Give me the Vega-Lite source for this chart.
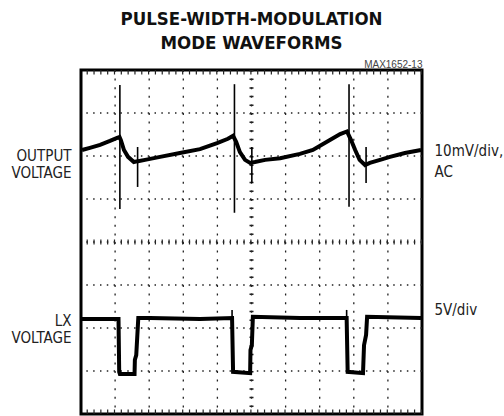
{
  "$schema": "https://vega.github.io/schema/vega-lite/v6.json",
  "width": 341,
  "height": 344,
  "autosize": {"type": "none"},
  "padding": {"left": 81, "top": 70, "right": 82, "bottom": 2},
  "background": "white",
  "config": {"view": {"stroke": "black", "strokeWidth": 3, "fill": "white"}},
  "title": {
    "text": ["PULSE-WIDTH-MODULATION", "MODE WAVEFORMS"],
    "font": "Liberation Sans Narrow, DejaVu Sans Condensed, Liberation Sans, sans-serif",
    "fontSize": 18.5,
    "fontWeight": "bold",
    "lineHeight": 24,
    "anchor": "middle",
    "frame": "group",
    "offset": 7,
    "color": "#111"
  },
  "datasets": {
    "hgrid": [{"y": 1}, {"y": 2}, {"y": 3}, {"y": 4}, {"y": 5}, {"y": 6}, {"y": 7}],
    "vgrid": [{"x": 1}, {"x": 2}, {"x": 3}, {"x": 4}, {"x": 5}, {"x": 6}, {"x": 7}, {"x": 8}, {"x": 9}],
    "hcenter": [{"y": 4}],
    "vcenter": [{"x": 5}],
    "edges": [{"y": 0}, {"y": 8}],
    "out": [
      {"x": 0.03, "y": 6.14}, {"x": 0.26, "y": 6.19}, {"x": 0.56, "y": 6.26}, {"x": 0.85, "y": 6.35},
      {"x": 1.06, "y": 6.42}, {"x": 1.13, "y": 6.44}, {"x": 1.17, "y": 6.37}, {"x": 1.26, "y": 6.14},
      {"x": 1.38, "y": 5.98}, {"x": 1.55, "y": 5.86}, {"x": 1.67, "y": 5.88}, {"x": 1.88, "y": 5.91},
      {"x": 2.32, "y": 5.98}, {"x": 2.9, "y": 6.07}, {"x": 3.49, "y": 6.16}, {"x": 3.99, "y": 6.3},
      {"x": 4.31, "y": 6.4}, {"x": 4.46, "y": 6.47}, {"x": 4.55, "y": 6.33}, {"x": 4.66, "y": 6.09},
      {"x": 4.81, "y": 5.91}, {"x": 4.96, "y": 5.84}, {"x": 5.1, "y": 5.86}, {"x": 5.4, "y": 5.91},
      {"x": 5.84, "y": 5.95}, {"x": 6.42, "y": 6.05}, {"x": 6.8, "y": 6.14}, {"x": 7.3, "y": 6.37},
      {"x": 7.6, "y": 6.51}, {"x": 7.8, "y": 6.57}, {"x": 7.92, "y": 6.37}, {"x": 8.04, "y": 6.14},
      {"x": 8.17, "y": 5.91}, {"x": 8.33, "y": 5.79}, {"x": 8.47, "y": 5.84}, {"x": 8.77, "y": 5.91},
      {"x": 9.06, "y": 5.98}, {"x": 9.5, "y": 6.07}, {"x": 9.97, "y": 6.14}
    ],
    "spikes": [
      {"x": 1.14, "y": 7.65, "y2": 4.77}, {"x": 4.5, "y": 7.67, "y2": 4.68}, {"x": 7.86, "y": 7.67, "y2": 4.82},
      {"x": 1.66, "y": 6.21, "y2": 5.28}, {"x": 5.01, "y": 6.21, "y2": 5.37}, {"x": 8.36, "y": 6.21, "y2": 5.37},
      {"x": 4.43, "y": 2.42, "y2": 2.2}, {"x": 7.79, "y": 2.42, "y2": 2.2}
    ],
    "lx": [
      {"x": 0.03, "y": 2.21}, {"x": 1.1, "y": 2.21}, {"x": 1.12, "y": 0.98}, {"x": 1.14, "y": 0.93},
      {"x": 1.57, "y": 0.93}, {"x": 1.58, "y": 1.26}, {"x": 1.62, "y": 1.37}, {"x": 1.68, "y": 2.23},
      {"x": 2.02, "y": 2.23}, {"x": 3.49, "y": 2.21}, {"x": 4.43, "y": 2.23}, {"x": 4.46, "y": 0.98},
      {"x": 4.96, "y": 0.95}, {"x": 4.97, "y": 1.49}, {"x": 5.01, "y": 1.6}, {"x": 5.04, "y": 2.26},
      {"x": 6.42, "y": 2.23}, {"x": 7.79, "y": 2.23}, {"x": 7.82, "y": 0.98}, {"x": 8.27, "y": 0.95},
      {"x": 8.3, "y": 1.6}, {"x": 8.36, "y": 1.84}, {"x": 8.39, "y": 2.26}, {"x": 9.97, "y": 2.23}
    ]
  },
  "layer": [
    {
      "data": {"name": "hgrid"},
      "mark": {"type": "rule", "strokeDash": [1.5, 5.32], "strokeWidth": 1.3, "color": "#222"},
      "encoding": {"y": {"field": "y", "type": "quantitative", "scale": {"domain": [0, 8], "nice": false}, "axis": null}}
    },
    {
      "data": {"name": "vgrid"},
      "mark": {"type": "rule", "strokeDash": [2, 6.6], "strokeWidth": 1.3, "color": "#222"},
      "encoding": {
        "x": {
          "field": "x", "type": "quantitative", "scale": {"domain": [0, 10], "nice": false},
          "axis": {"orient": "top", "title": "MAX1652-13", "titleFont": "Liberation Sans", "titleFontSize": 10, "titleFontWeight": "normal", "titleColor": "#444", "titleAnchor": "end", "titlePadding": 1, "labels": false, "ticks": false, "domain": false, "grid": false}
        }
      }
    },
    {
      "data": {"name": "hcenter"},
      "mark": {"type": "rule", "strokeDash": [1.2, 5.62], "strokeWidth": 5, "color": "#222"},
      "encoding": {"y": {"field": "y", "type": "quantitative", "axis": null}}
    },
    {
      "data": {"name": "vcenter"},
      "mark": {"type": "rule", "strokeDash": [1.5, 7.1], "strokeWidth": 4, "color": "#222"},
      "encoding": {"x": {"field": "x", "type": "quantitative", "axis": null}}
    },
    {
      "data": {"name": "edges"},
      "mark": {"type": "rule", "strokeDash": [1.2, 5.62], "strokeWidth": 9, "color": "#222", "clip": true},
      "encoding": {"y": {"field": "y", "type": "quantitative", "axis": null}}
    },
    {
      "data": {"name": "out"},
      "mark": {"type": "line", "strokeWidth": 4, "color": "black"},
      "encoding": {
        "x": {"field": "x", "type": "quantitative", "axis": null},
        "y": {
          "field": "y", "type": "quantitative",
          "axis": {"orient": "left", "values": [6.02, 2.17], "labelExpr": "datum.value > 4 ? ['OUTPUT', 'VOLTAGE'] : ['LX', 'VOLTAGE']", "labelFont": "Liberation Sans Narrow, DejaVu Sans Condensed, Liberation Sans, sans-serif", "labelFontSize": 15, "labelColor": "#222", "labelLineHeight": 17, "labelPadding": 10, "labelBaseline": "middle", "ticks": false, "domain": false, "grid": false, "title": null}
        }
      }
    },
    {
      "data": {"name": "spikes"},
      "mark": {"type": "rule", "strokeWidth": 1.6, "color": "black"},
      "encoding": {
        "x": {"field": "x", "type": "quantitative", "axis": null},
        "y": {"field": "y", "type": "quantitative", "axis": null},
        "y2": {"field": "y2"}
      }
    },
    {
      "data": {"name": "lx"},
      "mark": {"type": "line", "strokeWidth": 4, "color": "black"},
      "encoding": {
        "x": {"field": "x", "type": "quantitative", "axis": null},
        "y": {
          "field": "y", "type": "quantitative",
          "axis": {"orient": "right", "values": [6.12, 2.44], "labelExpr": "datum.value > 4 ? ['10mV/div,', 'AC'] : '5V/div'", "labelFont": "Liberation Sans Narrow, DejaVu Sans Condensed, Liberation Sans, sans-serif", "labelFontSize": 15, "labelColor": "#222", "labelLineHeight": 21, "labelPadding": 12, "labelBaseline": "middle", "labelAlign": "left", "ticks": false, "domain": false, "grid": false, "title": null}
        }
      }
    }
  ],
  "resolve": {"axis": {"x": "independent", "y": "independent"}}
}
